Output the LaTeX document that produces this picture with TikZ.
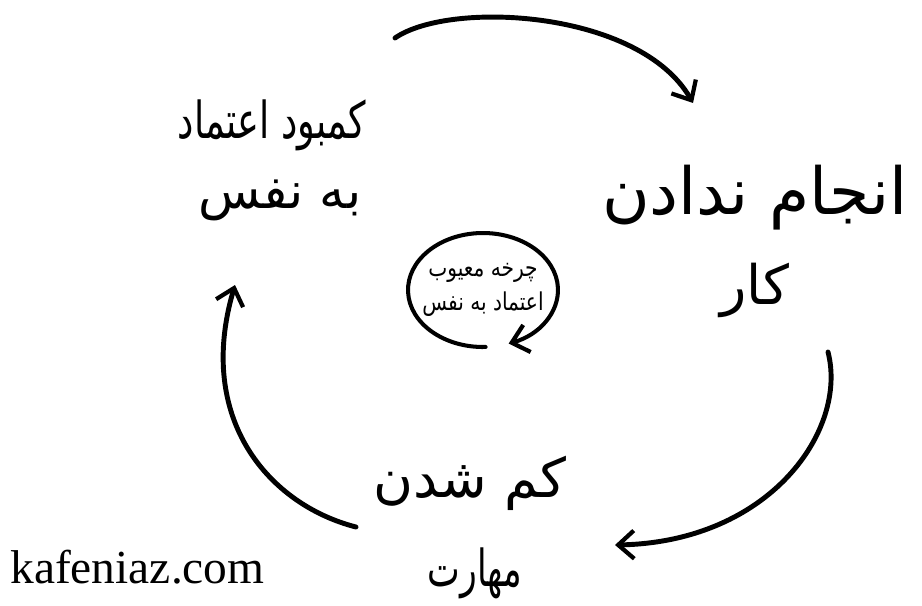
\documentclass[tikz,border=0pt]{standalone}
\usepackage{fontspec}
\usepackage{graphicx}
\setmainfont{Liberation Serif}
\newfontfamily\arabicfont[Script=Arabic]{DejaVu Sans}
\TeXXeTstate=1
\usetikzlibrary{arrows.meta}
\begin{document}
\begin{tikzpicture}[x=0.02cm, y=-0.02cm,
    cyc/.style={line width=2.8pt, line cap=round,
      -{Straight Barb[length=9pt, width=16pt, line width=2.4pt]}},
    big/.style={font=\arabicfont\fontsize{#1}{#1}\selectfont, inner sep=0pt},
    small/.style={font=\arabicfont\fontsize{14}{19}\selectfont, align=center}]
  \useasboundingbox (0, 0) rectangle (922, 605);
  \node[big=29] (lackA) at (272, 125) {\scalebox{0.72}[1]{\beginR کمبود اعتماد\endR}};
  \node[big=29] (lackB) at (280, 200) {\beginR به نفس\endR};
  \node[big=37] (noworkA) at (755, 198) {\beginR انجام ندادن\endR};
  \node[big=31] (noworkB) at (755, 290) {\beginR کار\endR};
  \node[big=31] (lessskillA) at (470, 483) {\beginR کم شدن\endR};
  \node[big=29] (lessskillB) at (475, 573) {\scalebox{0.68}[1]{\beginR مهارت\endR}};
  \node[small] (loop) at (483, 290)
    {\scalebox{0.82}[1]{\beginR چرخه معیوب\endR}\\
     \scalebox{0.82}[1]{\beginR اعتماد به نفس\endR}};
  \node[anchor=base west, inner sep=0pt, font=\fontsize{27}{30}\selectfont]
    (site) at (10, 583) {kafeniaz.com};
  \coordinate (topA) at (395, 38);
  \coordinate (topB) at (693, 103);
  \coordinate (rightA) at (828, 352);
  \coordinate (rightB) at (615, 545);
  \coordinate (leftA) at (356, 527);
  \coordinate (leftB) at (235, 285);
  \draw[cyc] (topA) .. controls (450, 0) and (640, 10) .. (topB);
  \draw[cyc] (rightA) .. controls (848, 430) and (770, 542) .. (rightB);
  \draw[cyc] (leftA) .. controls (270, 505) and (195, 420) .. (leftB);
  \draw[cyc, line width=2.3pt]
    ([shift={(272:1.5cm and 1.14cm)}]loop.center)
    arc[start angle=272, end angle=-70, x radius=1.5cm, y radius=1.14cm];
\end{tikzpicture}
\end{document}
